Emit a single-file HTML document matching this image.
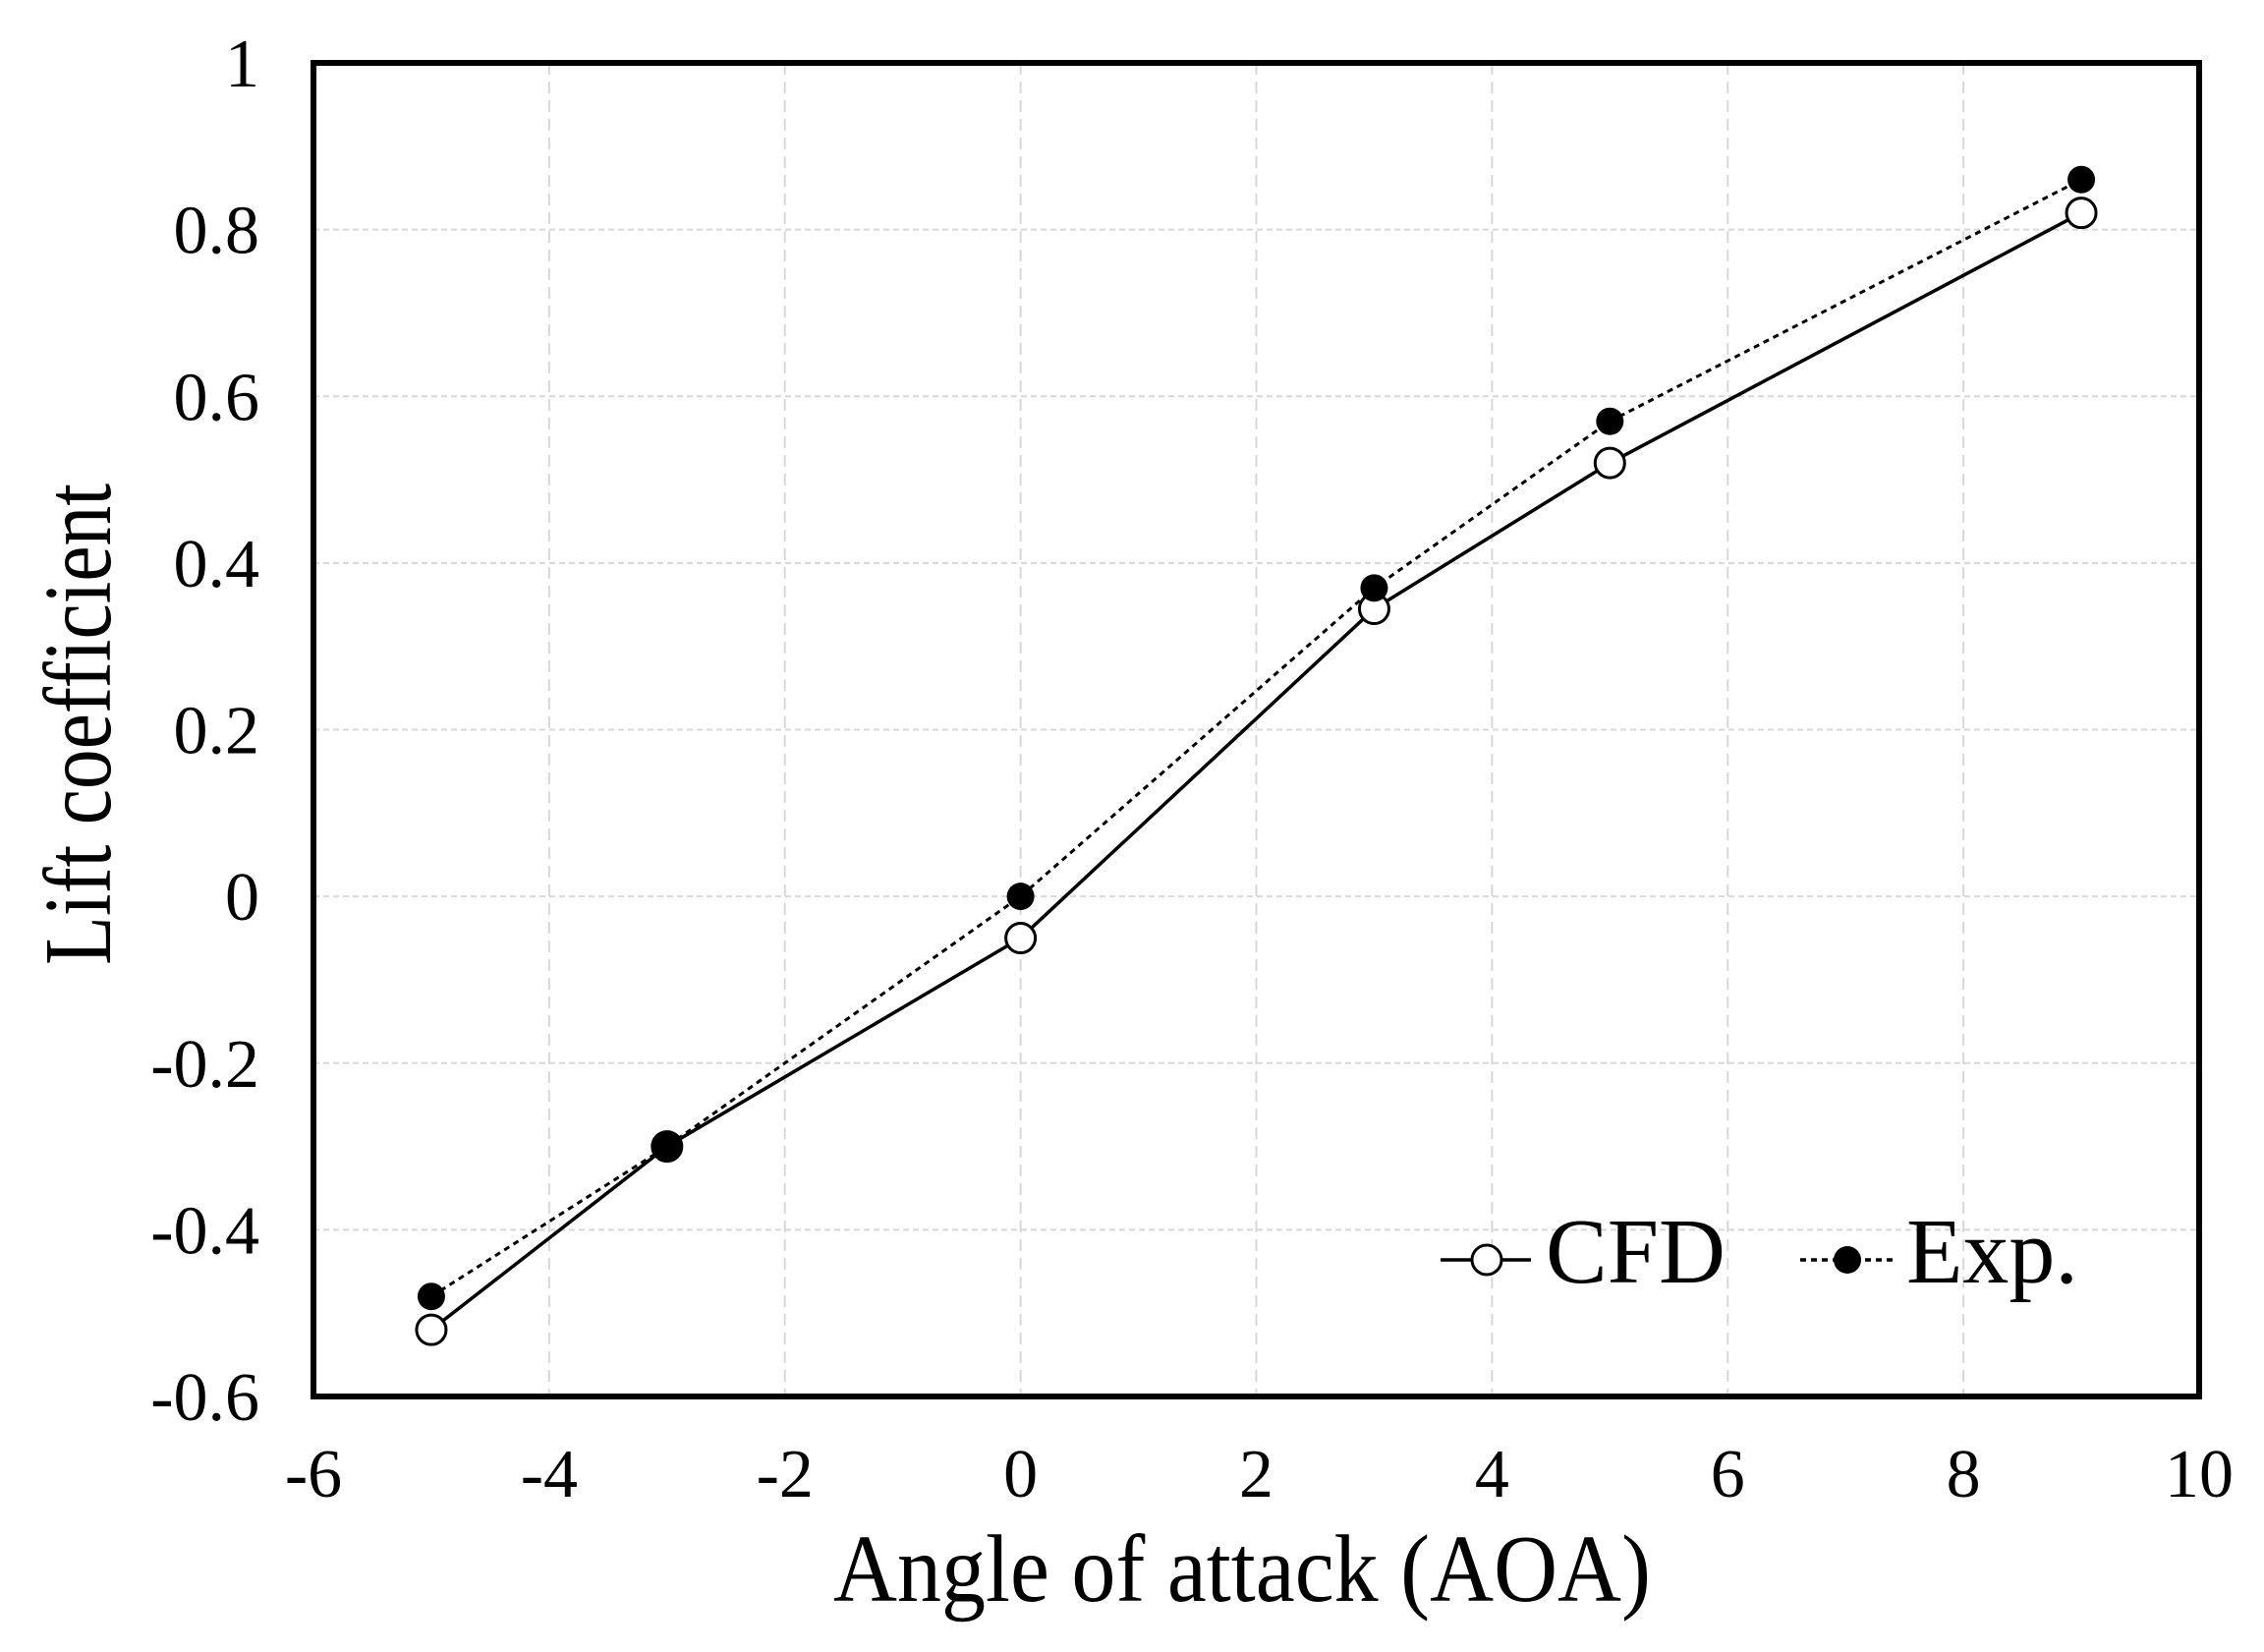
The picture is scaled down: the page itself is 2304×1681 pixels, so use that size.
<!DOCTYPE html>
<html><head><meta charset="utf-8"><style>
html,body{margin:0;padding:0;background:#fff}
svg text{font-family:"Liberation Serif",serif;fill:#000}
</style></head><body>
<svg id="chart" width="2304" height="1676" xmlns="http://www.w3.org/2000/svg">
<g id="grid"></g>
<g id="series"></g>
<rect x="319" y="64" width="1919" height="1357" fill="none" stroke="#000" stroke-width="6"/>
<g id="ticks"></g>
<text x="1264" y="1629" font-size="98" text-anchor="middle" textLength="832" lengthAdjust="spacingAndGlyphs">Angle of attack (AOA)</text>
<text transform="translate(112,737) rotate(-90)" font-size="98" text-anchor="middle" textLength="490" lengthAdjust="spacingAndGlyphs">Lift coefficient</text>
<g>
 <g>
  <line x1="1466" y1="1282" x2="1558" y2="1282" stroke="#000" stroke-width="3.5"/>
  <circle cx="1513" cy="1282" r="15" fill="#fff" stroke="#000" stroke-width="3"/>
  <text x="1573" y="1305" font-size="94">CFD</text>
 </g>
 <g>
  <line x1="1832" y1="1282" x2="1926" y2="1282" stroke="#000" stroke-width="3.5" stroke-dasharray="6,5"/>
  <circle cx="1880" cy="1282" r="14" fill="#000"/>
  <text x="1940" y="1305" font-size="94">Exp.</text>
 </g>
</g>
</svg>
<script>
const xTicks=[-6,-4,-2,0,2,4,6,8,10];
const yTicks=[-0.6,-0.4,-0.2,0,0.2,0.4,0.6,0.8,1];
const yTickLabels=["-0.6","-0.4","-0.2","0","0.2","0.4","0.6","0.8","1"];
const aoa=[-5,-3,0,3,5,9];
const cfdValues=[-0.52,-0.30,-0.05,0.345,0.52,0.82];
const expValues=[-0.48,-0.30,0.0,0.37,0.57,0.86];
const NS="http://www.w3.org/2000/svg";
const X0=319,X1=2238,Y0=1421,Y1=64;
function sx(v){return X0+(v-(-6))/(10-(-6))*(X1-X0);}
function sy(v){return Y0-(v-(-0.6))/(1-(-0.6))*(Y0-Y1);}
function mk(tag,attrs,parent){const e=document.createElementNS(NS,tag);for(const k in attrs)e.setAttribute(k,attrs[k]);parent.appendChild(e);return e;}
const grid=document.getElementById('grid'),ticks=document.getElementById('ticks'),series=document.getElementById('series');
xTicks.forEach(v=>{
 const l=mk('line',{x1:sx(v),x2:sx(v),y1:Y1,y2:Y0,stroke:'#d8d8d8','stroke-width':2,'stroke-dasharray':'12,7'},grid);
 
 
 const t=mk('text',{x:sx(v),y:1523,'font-size':70,'text-anchor':'middle'},ticks);
 t.textContent=String(v);
 
 
});
yTicks.forEach((v,i)=>{
 const l=mk('line',{x1:X0,x2:X1,y1:sy(v),y2:sy(v),stroke:'#d8d8d8','stroke-width':2,'stroke-dasharray':'6,4'},grid);
 
 
 const t=mk('text',{x:264,y:sy(v)+24,'font-size':70,'text-anchor':'end'},ticks);
 t.textContent=yTickLabels[i];
 
 
});
function pts(vals){return aoa.map((a,i)=>sx(a)+','+sy(vals[i])).join(' ');}
const le=mk('polyline',{points:pts(expValues),fill:'none',stroke:'#000','stroke-width':3,'stroke-dasharray':'6,5'},series);


const lc=mk('polyline',{points:pts(cfdValues),fill:'none',stroke:'#000','stroke-width':3.5},series);


aoa.forEach((a,i)=>{
 const c=mk('circle',{cx:sx(a),cy:sy(cfdValues[i]),r:15,fill:'#fff',stroke:'#000','stroke-width':3},series);
 
 
});
aoa.forEach((a,i)=>{
 const c=mk('circle',{cx:sx(a),cy:sy(expValues[i]),r:14,fill:'#000'},series);
 
 
});
</script>
</body></html>
